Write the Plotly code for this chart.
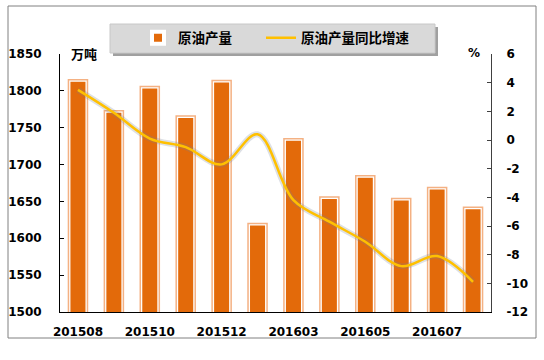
import plotly.graph_objects as go

categories = ["201508", "201509", "201510", "201511", "201512", "201602",
              "201603", "201604", "201605", "201606", "201607", "201608"]
output_wt = [1815, 1773, 1806, 1766, 1814, 1620, 1735, 1656, 1685, 1654, 1669, 1642]
growth_pct = [3.5, 1.9, 0.1, -0.5, -1.7, 0.4, -4.2, -5.7, -7.1, -8.8, -8.1, -9.9]
tick_labels = ["201508", "201510", "201512", "201603", "201605", "201607"]
left_ticks = [1500, 1550, 1600, 1650, 1700, 1750, 1800, 1850]
right_ticks = [-12, -10, -8, -6, -4, -2, 0, 2, 4, 6]

W, H = 544, 360
L, R, T, B = 60, 53, 54, 48
PW, PH = W - L - R, H - T - B

def px(x):
    return (x - L) / PW

def py(y):
    return (H - B - y) / PH

FONT = "DejaVu Sans"
ORANGE = "#E36A0A"
LIGHT = "#F4B183"
GOLD = "#FFC000"

fig = go.Figure()
fig.add_trace(go.Bar(
    x=categories, y=output_wt, name="原油产量", width=0.53,
    marker=dict(color=ORANGE, line=dict(color="white", width=4)),
    showlegend=True, legend="legend",
))
fig.add_trace(go.Bar(
    x=categories, y=output_wt, name="原油产量", width=0.53,
    marker=dict(color="rgba(0,0,0,0)", line=dict(color=LIGHT, width=1.5)),
    showlegend=False, hoverinfo="skip",
))
fig.add_trace(go.Scatter(
    x=categories, y=growth_pct, yaxis="y2", mode="lines", name="shadow",
    line=dict(color="rgba(120,130,150,0.25)", width=6, shape="spline", smoothing=1.0),
    showlegend=False, hoverinfo="skip",
))
fig.add_trace(go.Scatter(
    x=categories, y=growth_pct, yaxis="y2", mode="lines", name="原油产量同比增速",
    line=dict(color=GOLD, width=2.5, shape="spline", smoothing=1.0),
    legend="legend2",
))

tickfont = dict(family=FONT, size=12, color="#000000", weight="bold")
legfont = dict(family="Noto Sans CJK SC", size=13.5, color="#000000", weight="bold")

fig.update_layout(
    width=W, height=H,
    margin=dict(l=L, r=R, t=T, b=B, autoexpand=False),
    paper_bgcolor="white", plot_bgcolor="white",
    barmode="overlay",
    xaxis=dict(
        type="category", tickmode="array", tickvals=tick_labels, ticktext=tick_labels,
        showline=True, linecolor="#000000", linewidth=1.2, ticks="",
        showgrid=False, tickfont=tickfont, ticklabelstandoff=8,
        range=[-0.5, len(categories) - 0.5],
    ),
    yaxis=dict(
        range=[1500, 1850], tickmode="array", tickvals=left_ticks,
        ticktext=[str(v) for v in left_ticks],
        showline=True, linecolor="#000000", linewidth=1,
        ticks="inside", ticklen=4, tickcolor="#000000", showgrid=False, zeroline=False,
        tickfont=tickfont, ticklabelstandoff=15,
    ),
    yaxis2=dict(
        range=[-12, 6], tickmode="array", tickvals=right_ticks,
        ticktext=[str(v) for v in right_ticks],
        overlaying="y", side="right", showline=True,
        linecolor="#404040", linewidth=1, ticks="inside", ticklen=4, tickcolor="#404040",
        showgrid=False, zeroline=False, tickfont=tickfont, ticklabelstandoff=12,
    ),
    legend=dict(
        orientation="h", x=px(138), xanchor="left", y=py(38), yanchor="middle",
        bgcolor="rgba(0,0,0,0)", borderwidth=0, font=legfont,
    ),
    legend2=dict(
        orientation="h", x=px(261), xanchor="left", y=py(38), yanchor="middle",
        bgcolor="rgba(0,0,0,0)", borderwidth=0, font=legfont,
    ),
    shapes=[
        dict(type="rect", xref="paper", yref="paper", x0=px(8), x1=px(536), y0=py(338), y1=py(6),
             line=dict(color="#808080", width=1), fillcolor="rgba(0,0,0,0)", layer="below"),
        dict(type="rect", xref="paper", yref="paper", x0=px(113), x1=px(438), y0=py(56), y1=py(27),
             line=dict(width=0), fillcolor="#A0A0A0", layer="below"),
        dict(type="rect", xref="paper", yref="paper", x0=px(110), x1=px(435), y0=py(53), y1=py(24),
             line=dict(color="#C8C8C8", width=1), fillcolor="#D9D9D9", layer="below"),
    ],
    annotations=[
        dict(text="万吨", xref="paper", yref="paper", x=px(69), y=py(53), xanchor="left",
             yanchor="middle", showarrow=False,
             font=dict(family="Noto Sans CJK SC", size=13, color="#000000", weight="bold")),
        dict(text="%", xref="paper", yref="paper", x=px(482), y=py(53), xanchor="right",
             yanchor="middle", showarrow=False,
             font=dict(family=FONT, size=12, color="#000000", weight="bold")),
    ],
)

fig.write_html(
    "out.html",
    config={"displayModeBar": False},
    post_script="document.body.style.margin='0';document.body.style.overflow='hidden';",
)
